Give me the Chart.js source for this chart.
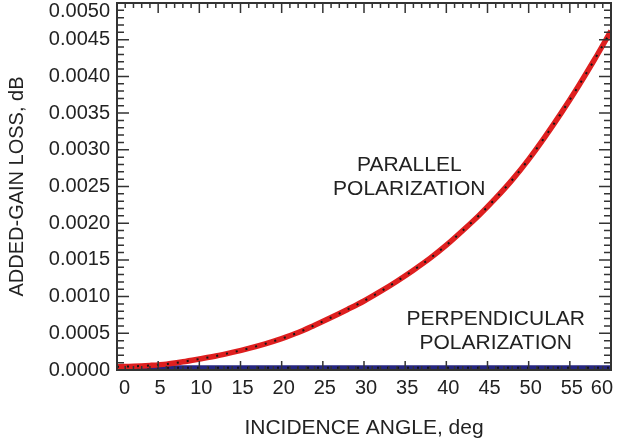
<!DOCTYPE html>
<html lang="en">
<head>
  <meta charset="UTF-8">
  <title>Added-gain loss vs incidence angle</title>
  <script src="https://cdn.jsdelivr.net/npm/chart.js"></script>
  <style>
    html, body {
      margin: 0;
      padding: 0;
      background: #ffffff;
    }
    .wrap {
      width: 625px;
      height: 446px;
      position: relative;
    }
  </style>
</head>
<body>
  <div class="wrap">
    <canvas id="chart" width="625" height="446"></canvas>
  </div>

  <script>
    // values
    const angles = [0, 2, 4, 6, 8, 10, 12, 14, 16, 18, 20, 22, 24, 26, 28, 30,
                    32, 34, 36, 38, 40, 42, 44, 46, 48, 50, 52, 54, 56, 58, 60];
    const parallelLoss = [0.000045, 0.000050, 0.000062, 0.000080, 0.000112, 0.000150, 0.000190, 0.000240,
                          0.000295, 0.000357, 0.000428, 0.000510, 0.000610, 0.000715, 0.000825, 0.000940,
                          0.001070, 0.001210, 0.001360, 0.001520, 0.001700, 0.001900, 0.002110, 0.002340,
                          0.002590, 0.002870, 0.003180, 0.003510, 0.003860, 0.004230, 0.004620];
    const perpendicularLoss = [0.00003, 0.00003, 0.00003, 0.00003, 0.00003, 0.00003, 0.00003, 0.00003,
                               0.00003, 0.00003, 0.00003, 0.00003, 0.00003, 0.00003, 0.00003, 0.00003,
                               0.00003, 0.00003, 0.00003, 0.00003, 0.00003, 0.00003, 0.00003, 0.00003,
                               0.00003, 0.00003, 0.00003, 0.00003, 0.00003, 0.00003, 0.00003];

    const xTitle = 'INCIDENCE ANGLE, deg';
    const yTitle = 'ADDED-GAIN LOSS, dB';
    const xRange = [0, 60];
    const yRange = [0, 0.005];

    // curve labels: text lines and anchor (angle, loss)
    const notes = [
      { lines: ['PARALLEL', 'POLARIZATION'], x: 35.5, y: 0.00279 },
      { lines: ['PERPENDICULAR', 'POLARIZATION'], x: 46.0, y: 0.000695 }
    ];

    const FONT = "'Liberation Sans', Arial, sans-serif";
    const INK = '#222';

    const toPoints = (xs, ys) => xs.map((x, i) => ({ x: x, y: ys[i] }));

    // frame with inward ticks on all four sides
    const framePlugin = {
      id: 'frame',
      afterDatasetsDraw(chart) {
        const { ctx, chartArea: a, scales: { x, y } } = chart;
        ctx.save();
        ctx.strokeStyle = '#333';
        ctx.lineWidth = 1.5;
        ctx.beginPath();
        for (let v = x.min; v <= x.max + 1e-9; v += 1) {
          const px = x.getPixelForValue(v);
          const len = (Math.round(v) % 5 === 0) ? 10 : 5;
          ctx.moveTo(px, a.top); ctx.lineTo(px, a.top + len);
          ctx.moveTo(px, a.bottom); ctx.lineTo(px, a.bottom - len + 1);
        }
        for (let i = 0; i <= 50; i++) {
          const py = y.getPixelForValue(y.min + i * 0.0001);
          const len = (i % 5 === 0) ? 12 : 7;
          ctx.moveTo(a.left, py); ctx.lineTo(a.left + len, py);
          ctx.moveTo(a.right, py); ctx.lineTo(a.right - len, py);
        }
        ctx.stroke();
        ctx.lineWidth = 2;
        ctx.strokeRect(a.left, a.top, a.right - a.left, a.bottom - a.top);

        ctx.fillStyle = INK;
        ctx.font = '21px ' + FONT;
        ctx.textAlign = 'center';
        ctx.textBaseline = 'middle';
        notes.forEach(n => {
          const px = x.getPixelForValue(n.x);
          const py = y.getPixelForValue(n.y);
          n.lines.forEach((t, i) => ctx.fillText(t, px, py + i * 24));
        });
        ctx.restore();
      }
    };

    new Chart(document.getElementById('chart').getContext('2d'), {
      type: 'line',
      data: {
        datasets: [
          {
            data: toPoints(angles, parallelLoss),
            borderColor: '#151515',
            borderWidth: 2,
            borderDash: [2, 8],
            cubicInterpolationMode: 'monotone',
            pointRadius: 0
          },
          {
            data: toPoints(angles, parallelLoss),
            borderColor: '#de1f1f',
            borderWidth: 5.5,
            cubicInterpolationMode: 'monotone',
            pointRadius: 0
          },
          {
            data: toPoints(angles, perpendicularLoss),
            borderColor: '#151515',
            borderWidth: 2,
            borderDash: [2, 8],
            pointRadius: 0
          },
          {
            data: toPoints(angles, perpendicularLoss),
            borderColor: '#262680',
            borderWidth: 5,
            pointRadius: 0
          }
        ]
      },
      options: {
        responsive: false,
        animation: false,
        layout: { padding: { top: 3, right: 14, bottom: 0, left: 0 } },
        plugins: {
          legend: { display: false },
          tooltip: { enabled: false }
        },
        scales: {
          x: {
            type: 'linear',
            min: xRange[0],
            max: xRange[1],
            grid: { display: false, drawTicks: false },
            border: { display: false },
            ticks: {
              stepSize: 5,
              autoSkip: false,
              maxRotation: 0,
              padding: 6,
              labelOffset: 2,
              color: INK,
              font: { family: FONT, size: 20 },
              callback: v => v === xRange[0] ? '  ' + v : (v === xRange[1] ? v + '    ' : String(v))
            },
            title: {
              display: true,
              text: xTitle,
              color: INK,
              font: { family: FONT, size: 21 },
              padding: { top: 0, bottom: 5 }
            },
            afterFit: s => {
              s.height = 76;
              s.paddingLeft = 0;
              s.paddingRight = 0;
            }
          },
          y: {
            min: yRange[0],
            max: yRange[1],
            grid: { display: false, drawTicks: false },
            border: { display: false },
            ticks: {
              stepSize: 0.0005,
              padding: 7,
              color: INK,
              font: { family: FONT, size: 20, lineHeight: 0.8 },
              callback: v => {
                const s = v.toFixed(4);
                return v >= yRange[1] - 1e-12 ? ['', s] : s;
              }
            },
            title: {
              display: true,
              text: yTitle,
              color: INK,
              font: { family: FONT, size: 20 },
              padding: { top: 5, bottom: 0 }
            },
            afterFit: s => {
              s.width = 117;
              s.paddingTop = 0;
              s.paddingBottom = 0;
            }
          }
        }
      },
      plugins: [framePlugin]
    });
  </script>
</body>
</html>
